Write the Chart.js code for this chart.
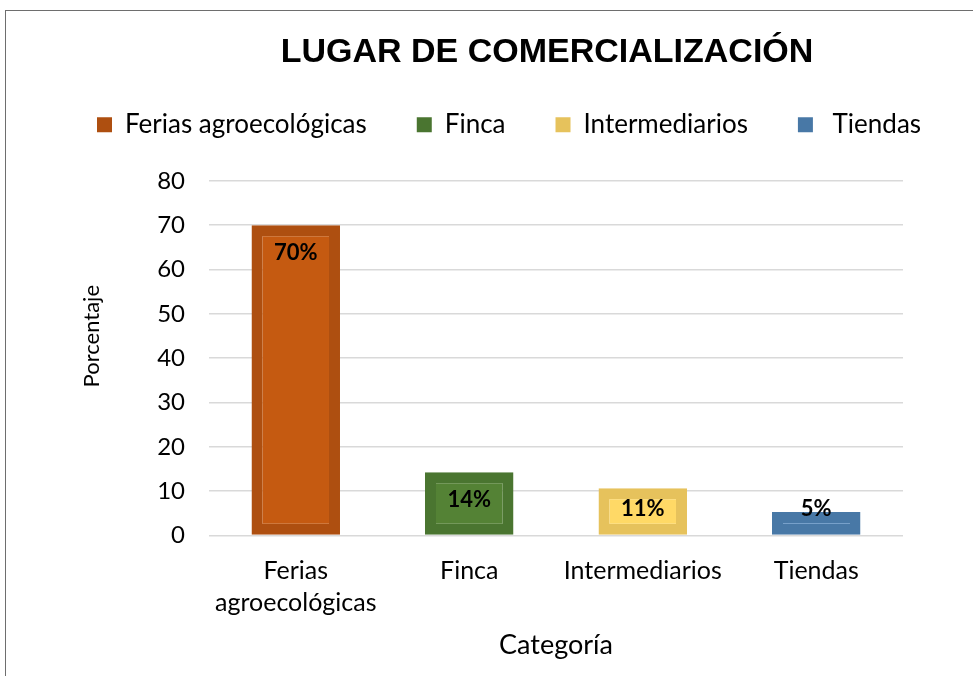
<!DOCTYPE html>
<html>
<head>
<meta charset="utf-8">
<script src="https://cdn.jsdelivr.net/npm/chart.js@4"></script>
<style>
  html, body { margin: 0; padding: 0; background: #fff; overflow: hidden; }
  #frame { position: absolute; left: 5px; top: 10px; border: 1px solid #6e6e6e; }
  #chart { display: block; }
</style>
</head>
<body>
<div id="frame"><canvas id="chart" width="1041" height="680"></canvas></div>
<script>
// legend names (Excel kept a leading space on "Tiendas")
const categories = ['Ferias agroecológicas', 'Finca', 'Intermediarios', ' Tiendas'];
const tickLabels = [['Ferias', 'agroecológicas'], 'Finca', 'Intermediarios', 'Tiendas'];
const values = [70, 14.3, 10.7, 5.3];
const valueLabels = ['70%', '14%', '11%', '5%'];

const fillColors = ['#C55A11', '#548235', '#FFD966', '#5A8DC0'];
const edgeColors = ['#AE4F10', '#4A7530', '#E6C25C', '#4878A6'];

// percentage labels ("inside end", kept off the base for short bars)
// and the y axis title, which sits a bit above the middle in the original
const barLabels = {
  id: 'barLabels',
  afterDatasetsDraw(chart) {
    const ctx = chart.ctx;
    const bars = chart.getDatasetMeta(0).data;
    ctx.save();
    ctx.font = 'bold 22px Lato';
    ctx.fillStyle = '#000';
    ctx.textAlign = 'center';
    ctx.textBaseline = 'middle';
    bars.forEach((bar, i) => {
      const y = Math.min(bar.y + 28, bar.base - 26);
      ctx.fillText(valueLabels[i], bar.x, y);
    });

    const area = chart.chartArea;
    ctx.font = '22px Lato';
    ctx.translate(chart.scales.y.left + 45, (area.top + area.bottom) / 2 - 22);
    ctx.rotate(-Math.PI / 2);
    ctx.fillText('Porcentaje', 0, 0);
    ctx.restore();
  }
};

// extra room between legend and plot
const legendGap = {
  id: 'legendGap',
  beforeInit(chart) {
    if (!chart.legend) return;
    const fit = chart.legend.fit;
    chart.legend.fit = function () {
      fit.call(this);
      this.height += 33;
    };
  }
};

new Chart(document.getElementById('chart'), {
  type: 'bar',
  data: {
    labels: tickLabels,
    datasets: [{
      data: values,
      backgroundColor: fillColors,
      borderColor: edgeColors,
      borderWidth: 11,
      borderSkipped: false,
      categoryPercentage: 1,
      barPercentage: 0.51
    }]
  },
  options: {
    responsive: false,
    animation: false,
    layout: { padding: { left: 41, right: 0, top: 0, bottom: 26 } },
    plugins: {
      title: {
        display: true,
        text: 'LUGAR DE COMERCIALIZACIÓN',
        color: '#000',
        font: { family: 'Liberation Sans', size: 34, weight: 'bold' },
        padding: { top: 21, bottom: -11 }
      },
      legend: {
        align: 'start',
        labels: {
          font: { family: 'Lato', size: 26 },
          color: '#000',
          boxWidth: 15,
          boxHeight: 15,
          padding: 50,
          generateLabels: () => categories.map((c, i) => ({
            text: c,
            fillStyle: edgeColors[i],
            strokeStyle: edgeColors[i],
            lineWidth: 0,
            hidden: false,
            index: i
          }))
        }
      },
      tooltip: { enabled: false }
    },
    scales: {
      x: {
        grid: { display: false, drawTicks: false },
        border: { display: false },
        ticks: {
          color: '#000',
          font: { family: 'Lato', size: 25, lineHeight: 1.28 },
          padding: 19,
          maxRotation: 0,
          autoSkip: false
        },
        title: {
          display: true,
          text: 'Categoría',
          color: '#000',
          font: { family: 'Lato', size: 27 },
          padding: { top: -9, bottom: 4 }
        }
      },
      y: {
        min: 0,
        max: 80,
        ticks: { stepSize: 10, color: '#000', font: { family: 'Lato', size: 24 }, padding: 24 },
        grid: { color: '#D9D9D9', lineWidth: 1.5, drawTicks: false },
        border: { display: false },
        afterFit: s => { s.width = 162; }
      },
      // empty right-hand axis, only reserves the blank space right of the plot
      side: {
        position: 'right',
        grid: { display: false },
        border: { display: false },
        ticks: { display: false },
        afterFit: s => { s.width = 144; }
      }
    }
  },
  plugins: [barLabels, legendGap]
});
</script>
</body>
</html>
